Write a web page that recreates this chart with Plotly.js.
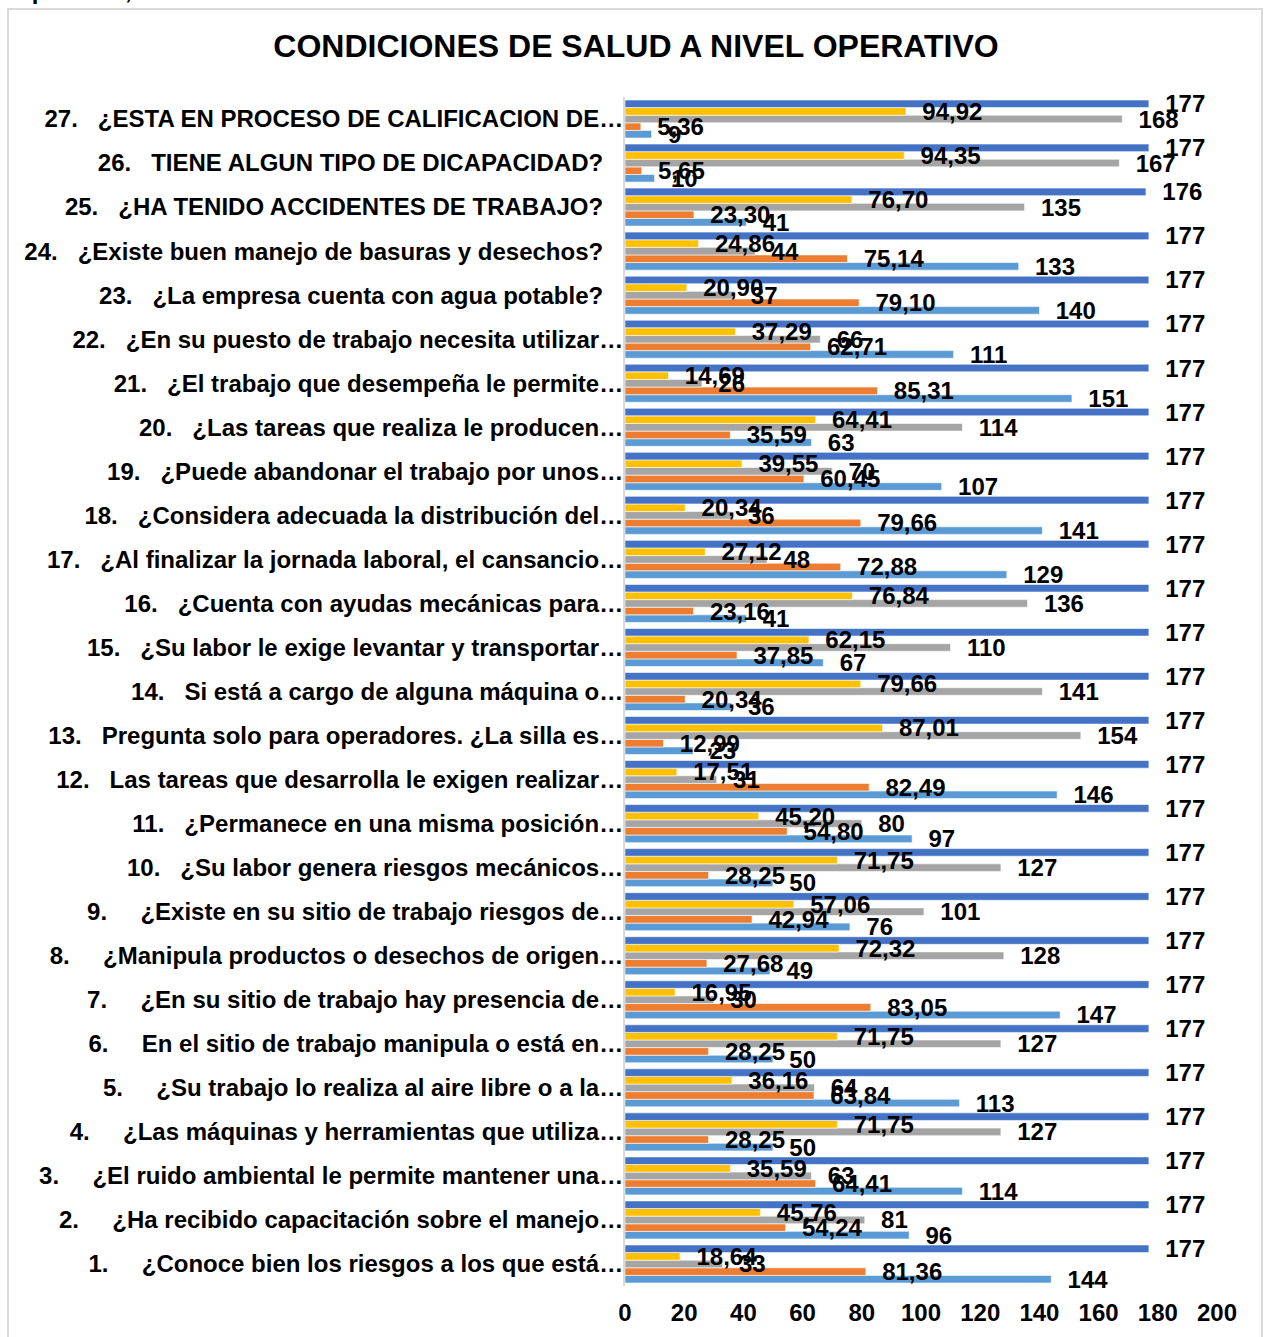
<!DOCTYPE html>
<html>
<head>
<meta charset="utf-8">
<script src="https://cdn.plot.ly/plotly-3.0.1.min.js"></script>
<style>
  html, body { margin: 0; padding: 0; background: #ffffff; }
  #chart { position: absolute; left: 0; top: 0; width: 1267px; height: 1337px; }
  #frame { position: absolute; left: 7px; top: 8px; width: 1256px; height: 1400px;
           border: 2px solid #d9d9d9; pointer-events: none; box-sizing: border-box; }
</style>
</head>
<body>
<div id="chart"></div>
<div id="frame"></div>
<script>
// ---- Data (category 1 at the bottom, 27 at the top) ----
const questionNumbers = ["1.","2.","3.","4.","5.","6.","7.","8.","9.","10.","11.","12.","13.","14.","15.","16.","17.","18.","19.","20.","21.","22.","23.","24.","25.","26.","27."];
const questionTexts = [
  "¿Conoce bien los riesgos a los que está…",
  "¿Ha recibido capacitación sobre el manejo…",
  "¿El ruido ambiental le permite mantener una…",
  "¿Las máquinas y herramientas que utiliza…",
  "¿Su trabajo lo realiza al aire libre o a la…",
  "En el sitio de trabajo manipula o está en…",
  "¿En su sitio de trabajo hay presencia de…",
  "¿Manipula productos o desechos de origen…",
  "¿Existe en su sitio de trabajo riesgos de…",
  "¿Su labor genera riesgos mecánicos…",
  "¿Permanece en una misma posición…",
  "Las tareas que desarrolla le exigen realizar…",
  "Pregunta solo para operadores. ¿La silla es…",
  "Si está a cargo de alguna máquina o…",
  "¿Su labor le exige levantar y transportar…",
  "¿Cuenta con ayudas mecánicas para…",
  "¿Al finalizar la jornada laboral, el cansancio…",
  "¿Considera adecuada la distribución del…",
  "¿Puede abandonar el trabajo por unos…",
  "¿Las tareas que realiza le producen…",
  "¿El trabajo que desempeña le permite…",
  "¿En su puesto de trabajo necesita utilizar…",
  "¿La empresa cuenta con agua potable?",
  "¿Existe buen manejo de basuras y desechos?",
  "¿HA TENIDO ACCIDENTES DE TRABAJO?",
  "TIENE ALGUN TIPO DE DICAPACIDAD?",
  "¿ESTA EN PROCESO DE CALIFICACION DE…"
];

const siCount   = [144, 96, 114, 50, 113, 50, 147, 49, 76, 50, 97, 146, 23, 36, 67, 41, 129, 141, 107, 63, 151, 111, 140, 133, 41, 10, 9];
const siPct     = [81.36, 54.24, 64.41, 28.25, 63.84, 28.25, 83.05, 27.68, 42.94, 28.25, 54.80, 82.49, 12.99, 20.34, 37.85, 23.16, 72.88, 79.66, 60.45, 35.59, 85.31, 62.71, 79.10, 75.14, 23.30, 5.65, 5.36];
const noCount   = [33, 81, 63, 127, 64, 127, 30, 128, 101, 127, 80, 31, 154, 141, 110, 136, 48, 36, 70, 114, 26, 66, 37, 44, 135, 167, 168];
const noPct     = [18.64, 45.76, 35.59, 71.75, 36.16, 71.75, 16.95, 72.32, 57.06, 71.75, 45.20, 17.51, 87.01, 79.66, 62.15, 76.84, 27.12, 20.34, 39.55, 64.41, 14.69, 37.29, 20.90, 24.86, 76.70, 94.35, 94.92];
const totalCount = [177, 177, 177, 177, 177, 177, 177, 177, 177, 177, 177, 177, 177, 177, 177, 177, 177, 177, 177, 177, 177, 177, 177, 177, 176, 177, 177];

// ---- Build category labels (tab-like spacing with no-break spaces) ----
const NB = "\u00a0";
const categories = questionNumbers.map((n, i) => {
  const gap = n.length <= 2 ? NB.repeat(5) : NB.repeat(3);
  const t = questionTexts[i];
  const tail = t.endsWith("?") ? NB.repeat(3) : "";
  return n + gap + t + tail;
});

const FONT = "Liberation Sans, Arial, Helvetica, sans-serif";
const labelFont = { family: FONT, size: 24, color: "#000000", weight: "bold" };

const seriesList = [
  { name: "SI",    values: siCount,    color: "#5B9BD5", fmt: "%{x}" },
  { name: "% SI",  values: siPct,      color: "#ED7D31", fmt: "%{x:.2f}" },
  { name: "NO",    values: noCount,    color: "#A5A5A5", fmt: "%{x}" },
  { name: "% NO",  values: noPct,      color: "#FFC000", fmt: "%{x:.2f}" },
  { name: "TOTAL", values: totalCount, color: "#4472C4", fmt: "%{x}" }
];

const data = [];
// coloured bars (no text)
seriesList.forEach(s => {
  data.push({
    type: "bar", orientation: "h", name: s.name,
    x: s.values, y: categories, yaxis: "y",
    marker: { color: s.color, line: { color: "#ffffff", width: 0.6 } },
    textposition: "none", hoverinfo: "x+name"
  });
});
// transparent copies on an overlaid axis, carrying the data labels above every bar
seriesList.forEach(s => {
  data.push({
    type: "bar", orientation: "h", name: s.name + " label",
    x: s.values, y: categories, yaxis: "y2",
    marker: { color: "rgba(0,0,0,0)", line: { width: 0 } },
    texttemplate: NB + NB + s.fmt,
    textposition: "outside",
    textfont: labelFont,
    constraintext: "none",
    cliponaxis: false,
    hoverinfo: "skip"
  });
});

const layout = {
  width: 1267,
  height: 1337,
  separators: ",.",
  paper_bgcolor: "#ffffff",
  plot_bgcolor: "#ffffff",
  showlegend: false,
  barmode: "group",
  bargap: 0.136,
  bargroupgap: 0,
  margin: { l: 625, r: 50, t: 97, b: 51 },
  title: {
    text: "CONDICIONES DE SALUD A NIVEL OPERATIVO",
    font: { family: FONT, size: 32, color: "#000000", weight: "bold" },
    x: 0.502, xanchor: "center",
    y: 0.9655, yanchor: "middle"
  },
  xaxis: {
    range: [0, 200],
    dtick: 20,
    tick0: 0,
    showgrid: false,
    zeroline: false,
    showline: false,
    ticks: "",
    ticklabelstandoff: 10,
    tickfont: { family: FONT, size: 24, color: "#000000", weight: "bold" },
    fixedrange: true
  },
  yaxis: {
    type: "category",
    showgrid: false,
    zeroline: false,
    showline: true,
    linecolor: "#d9d9d9",
    linewidth: 2,
    ticks: "",
    ticklabelstandoff: -5,
    tickfont: { family: FONT, size: 24, color: "#000000", weight: "bold" },
    automargin: false,
    fixedrange: true
  },
  yaxis2: {
    type: "category",
    overlaying: "y",
    matches: "y",
    visible: false,
    showgrid: false,
    zeroline: false,
    fixedrange: true
  },
  annotations: [
    {
      xref: "paper", yref: "paper",
      x: -1.037, y: 1.0767,
      xanchor: "left", yanchor: "bottom",
      text: "Operativo, 2019",
      showarrow: false,
      font: { family: FONT, size: 24, color: "#000000", weight: "bold" }
    }
  ]
};

Plotly.newPlot("chart", data, layout, { displayModeBar: false, staticPlot: true });
</script>
</body>
</html>
